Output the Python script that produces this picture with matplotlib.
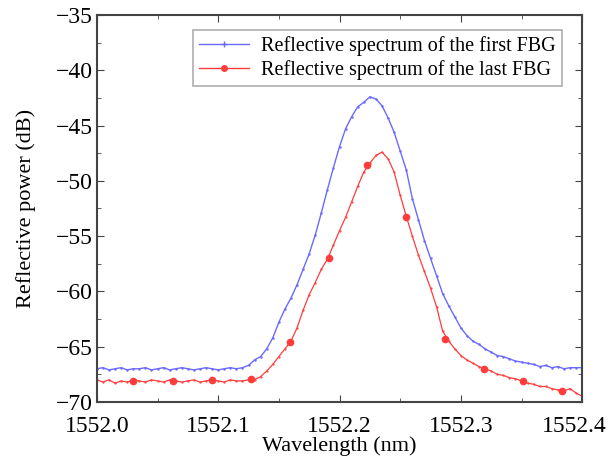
import numpy as np
import matplotlib
matplotlib.use("Agg")
import matplotlib.pyplot as plt
import matplotlib.transforms as mtransforms
from matplotlib.lines import Line2D
from matplotlib.ticker import MultipleLocator

plt.rcParams['font.family'] = ['Liberation Serif', 'DejaVu Serif']

# wavelength grid (nm)
wavelength = [
    1552.000, 1552.005, 1552.010, 1552.015, 1552.020, 1552.025, 1552.030, 1552.035, 1552.040,
    1552.045, 1552.050, 1552.055, 1552.060, 1552.065, 1552.070, 1552.075, 1552.080, 1552.085,
    1552.090, 1552.095, 1552.100, 1552.105, 1552.110, 1552.115, 1552.120, 1552.125, 1552.130,
    1552.135, 1552.140, 1552.145, 1552.150, 1552.155, 1552.160, 1552.165, 1552.170, 1552.175,
    1552.180, 1552.185, 1552.190, 1552.195, 1552.200, 1552.205, 1552.210, 1552.215, 1552.220,
    1552.225, 1552.230, 1552.235, 1552.240, 1552.245, 1552.250, 1552.255, 1552.260, 1552.265,
    1552.270, 1552.275, 1552.280, 1552.285, 1552.290, 1552.295, 1552.300, 1552.305, 1552.310,
    1552.315, 1552.320, 1552.325, 1552.330, 1552.335, 1552.340, 1552.345, 1552.350, 1552.355,
    1552.360, 1552.365, 1552.370, 1552.375, 1552.380, 1552.385, 1552.390, 1552.395, 1552.400,
]

# reflective spectrum of the first FBG (dB)
first_fbg = [
    -67.0, -66.9, -67.1, -67.0, -66.9, -67.1, -67.0, -67.0, -66.9,
    -67.1, -67.0, -66.9, -67.1, -67.0, -66.9, -67.0, -67.1, -67.0,
    -66.9, -67.0, -67.1, -67.0, -66.9, -67.0, -66.9, -66.7, -66.2,
    -65.9, -65.2, -64.2, -62.8, -61.6, -60.6, -59.4, -58.0, -56.6,
    -54.9, -52.9, -50.8, -48.8, -46.9, -45.3, -44.2, -43.3, -42.9,
    -42.4, -42.6, -43.2, -44.3, -45.6, -47.3, -49.0, -51.6, -53.5,
    -55.4, -57.0, -58.6, -60.2, -61.3, -62.3, -63.3, -64.0, -64.5,
    -64.8, -65.2, -65.5, -65.8, -65.9, -66.1, -66.3, -66.4, -66.5,
    -66.6, -66.8, -66.7, -66.9, -66.8, -67.0, -66.9, -66.9, -66.9,
]

# reflective spectrum of the last FBG (dB)
last_fbg = [
    -68.0, -68.2, -68.0, -68.3, -68.1, -68.2, -68.0, -68.1, -68.2,
    -68.0, -68.1, -68.2, -68.0, -68.1, -68.2, -68.1, -68.0, -68.2,
    -68.1, -68.0, -68.1, -68.2, -68.0, -68.1, -68.1, -68.0, -68.0,
    -67.7, -67.2, -66.6, -65.9, -65.2, -64.5, -63.3, -61.7, -60.3,
    -59.2, -58.0, -57.1, -55.8, -54.5, -53.3, -51.9, -50.5, -49.2,
    -48.4, -47.7, -47.4, -48.0, -49.2, -51.3, -53.2, -55.0, -56.7,
    -58.2, -59.7, -61.4, -63.6, -64.5, -65.2, -65.8, -66.2, -66.5,
    -66.8, -67.0, -67.2, -67.5, -67.6, -67.8, -67.9, -68.1, -68.3,
    -68.4, -68.6, -68.6, -68.8, -68.9, -69.0, -68.8, -69.2, -69.5,
]

# marker points on the last FBG curve
last_marker_wl = [1552.030, 1552.063, 1552.095, 1552.127, 1552.159, 1552.191,
                  1552.223, 1552.255, 1552.287, 1552.319, 1552.351, 1552.383]
last_marker_db = [-68.1, -68.1, -68.0, -67.9, -64.6, -57.0,
                  -48.6, -53.3, -64.3, -67.0, -68.1, -69.0]

x_ticks = [1552.0, 1552.1, 1552.2, 1552.3, 1552.4]
x_tick_labels = ["1552.0", "1552.1", "1552.2", "1552.3", "1552.4"]

labels = ["Reflective spectrum of the first FBG", "Reflective spectrum of the last FBG"]

blue = "#6a6aff"
red = "#ff3c3c"

fig = plt.figure(figsize=(6.09, 4.62), dpi=100)
ax = fig.add_axes([0.159, 0.130, 0.797, 0.8375])

ax.plot(wavelength, first_fbg, color=blue, lw=1.0, marker='.', ms=1.5)
ax.plot(wavelength, last_fbg, color=red, lw=0.9, marker='.', ms=1.2)
ax.plot(last_marker_wl, last_marker_db, ls='none', marker='o', ms=4.5, color=red)

ax.set_xlim(1552.0, 1552.4)
ax.set_ylim(-70, -35)
ax.set_xticks(x_ticks)
ax.xaxis.set_minor_locator(MultipleLocator(0.05))
ax.yaxis.set_major_locator(MultipleLocator(5))
ax.yaxis.set_minor_locator(MultipleLocator(2.5))
ax.tick_params(which='both', direction='in', top=True, right=True, labelsize=17, color='#444444')
ax.tick_params(which='major', length=5, pad=3)
ax.tick_params(which='minor', length=3)
ax.tick_params(axis='x', labelbottom=False)
for s in ax.spines.values():
    s.set_color('#444444')
    s.set_linewidth(1.5)

# wavelength tick labels, the last one nudged to stay inside the picture
for i, (xt, lab) in enumerate(zip(x_ticks, x_tick_labels)):
    tr = ax.get_xaxis_transform()
    dx = -8 / 100 if i == len(x_ticks) - 1 else 0
    tr = tr + mtransforms.ScaledTranslation(dx, -14 / 100, fig.dpi_scale_trans)
    ax.text(xt, 0, lab, transform=tr, ha='center', va='top', fontsize=17)

ax.set_xlabel("Wavelength (nm)", fontsize=16, labelpad=21)
ax.set_ylabel("Reflective power (dB)", fontsize=16, labelpad=14)

handles = [Line2D([], [], color=blue, lw=1.0, marker='+', ms=4),
           Line2D([], [], color=red, lw=1.0, marker='o', ms=4)]
leg = ax.legend(handles, labels, loc='upper left', bbox_to_anchor=(0.198, 0.962),
                borderaxespad=0, fontsize=14.5, fancybox=False, frameon=True,
                handlelength=2.5, handletextpad=0.6, borderpad=0.3, labelspacing=0.2)
leg.get_frame().set_edgecolor('#999999')
leg.get_frame().set_linewidth(1.2)

fig.savefig("out.png", dpi=100)
